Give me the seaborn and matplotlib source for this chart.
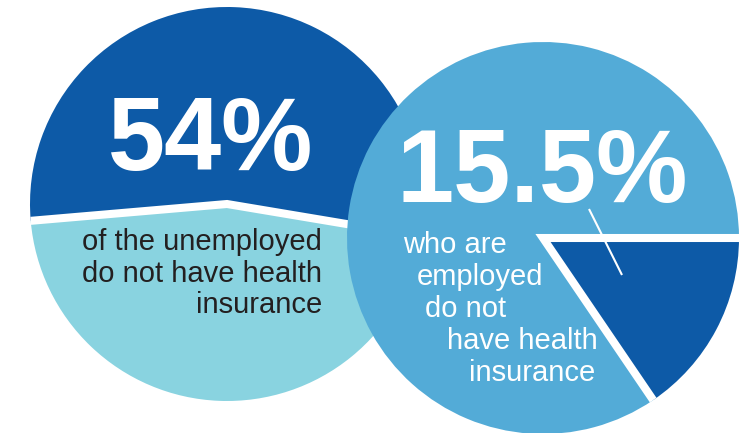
import matplotlib
matplotlib.use("Agg")
import matplotlib.pyplot as plt
import seaborn as sns
import numpy as np

# shares shown in the two circles
unemployed_labels = ["No health insurance", "Insured"]
unemployed_share = [54, 46]
employed_labels = ["No health insurance", "Insured"]
employed_share = [15.5, 84.5]

big_numbers = ["54%", "15.5%"]
left_caption = ["of the unemployed", "do not have health", "insurance"]
right_caption = ["who are", "employed", "do not", "have health", "insurance"]

sns.set_theme(style="white")
plt.rcParams['font.family'] = ['Liberation Sans', 'DejaVu Sans']

dark_blue = "#0d5aa7"
light_cyan = "#89d3e0"
mid_blue = "#53abd7"
ink = "#231f20"

W, H = 739, 433
fig = plt.figure(figsize=(W / 100, H / 100), dpi=100)
ax = fig.add_axes([0, 0, 1, 1])


def pie_with_dividers(values, colors, center, radius, startangle, counterclock, z):
    wedges, _ = ax.pie(values, colors=colors, center=center, radius=radius,
                       startangle=startangle, counterclock=counterclock,
                       wedgeprops=dict(edgecolor="none", linewidth=0))
    for w in wedges:
        w.set_zorder(z)
    # white separator along the first wedge's two edges
    w = wedges[0]
    a1, a2 = np.deg2rad(w.theta1), np.deg2rad(w.theta2)
    cx, cy = center
    xs = [cx + radius * np.cos(a1), cx, cx + radius * np.cos(a2)]
    ys = [cy + radius * np.sin(a1), cy, cy + radius * np.sin(a2)]
    ax.plot(xs, ys, color="white", lw=5.8, solid_joinstyle="miter",
            solid_capstyle="butt", zorder=z + 0.5)
    return wedges


# left circle: unemployed
pie_with_dividers(unemployed_share, [dark_blue, light_cyan], (227, 229), 197,
                  startangle=-9.5, counterclock=True, z=1)

# right circle: employed, drawn over the left one
pie_with_dividers(employed_share, [dark_blue, mid_blue], (543, 195), 196,
                  startangle=0, counterclock=False, z=3)

# pointer from the number into the slice
ax.plot([589, 622], [224, 158], color="white", lw=1.5, solid_capstyle="butt",
        zorder=5)

# big numbers
ax.text(211, 263, big_numbers[0], color="white", fontsize=74,
        fontweight="bold", ha="center", va="baseline", zorder=6)
ax.text(542, 231, big_numbers[1], color="white", fontsize=74,
        fontweight="bold", ha="center", va="baseline", zorder=6)

# captions
for i, line in enumerate(left_caption):
    ax.text(322, 183 - i * 31.5, line, color=ink, fontsize=21,
            ha="right", va="baseline", zorder=6)

right_x = [403, 417, 425, 447, 595]
right_ha = ["left", "left", "left", "left", "right"]
for i, line in enumerate(right_caption):
    ax.text(right_x[i], 180 - i * 32, line, color="white", fontsize=21,
            ha=right_ha[i], va="baseline", zorder=6)

ax.set_xlim(0, W)
ax.set_ylim(0, H)
ax.set_aspect("equal")
ax.axis("off")

fig.savefig("out.png", dpi=100, facecolor="white")
